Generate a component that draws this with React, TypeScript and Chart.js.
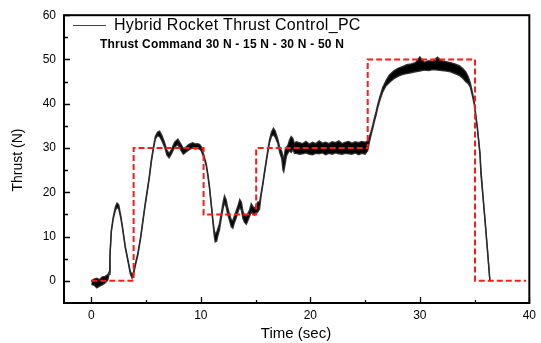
import React, { useEffect, useRef } from "react";
import { Chart, registerables } from "chart.js";

Chart.register(...registerables);

// Measured thrust (noise band: upper / lower envelope), time in seconds
const timeSec = [
  0, 0.25, 0.5, 0.75, 1.0, 1.25, 1.5, 1.62, 1.7, 1.82, 2.0, 2.2, 2.35, 2.5, 2.7, 2.88, 3.1, 3.34, 3.55, 3.72,
  3.85, 4.05, 4.25, 4.5, 4.71, 4.9, 5.1, 5.3, 5.47, 5.65, 5.84, 6.05, 6.23, 6.45, 6.69, 6.9, 7.1, 7.3, 7.6, 7.9,
  8.15, 8.4, 8.6, 8.8, 9.05, 9.27, 9.5, 9.7, 9.9, 10.05, 10.25, 10.49, 10.65, 10.79, 10.95, 11.1, 11.22, 11.31, 11.45, 11.55,
  11.7, 11.9, 12.05, 12.16, 12.3, 12.45, 12.62, 12.78, 12.92, 13.05, 13.2, 13.4, 13.55, 13.7, 13.85, 13.99, 14.15, 14.29, 14.45, 14.6,
  14.75, 14.9, 15.05, 15.2, 15.36, 15.5, 15.66, 15.8, 15.97, 16.12, 16.27, 16.45, 16.63, 16.8, 17.03, 17.2, 17.39, 17.5, 17.57, 17.7,
  17.82, 17.94, 18.1, 18.25, 18.4, 18.55, 18.7, 19.0, 19.3, 19.6, 19.9, 20.2, 20.5, 20.8, 21.1, 21.4, 21.7, 22.0, 22.3, 22.6,
  22.9, 23.2, 23.5, 23.8, 24.1, 24.4, 24.7, 25.0, 25.24, 25.4, 25.55, 25.7, 25.85, 26.0, 26.15, 26.35, 26.6, 26.9, 27.22, 27.6,
  28.0, 28.4, 28.8, 29.2, 29.6, 30.0, 30.4, 30.8, 31.2, 31.6, 32.0, 32.4, 32.8, 33.2, 33.6, 33.9, 34.2, 34.4, 34.6, 34.8,
  34.97, 35.13, 35.27, 35.49, 35.58, 35.75, 35.98, 36.2, 36.4,
];
const thrustHigh = [
  0.0, 0.4, 0.6, 0.3, 0.9, 1.0, 1.4, 2.0, 6.0, 11.4, 14.5, 16.8, 17.6, 17.2, 14.5, 11.6, 7.8, 4.8, 2.2, 1.3,
  2.0, 4.2, 6.3, 10.0, 13.8, 17.2, 20.5, 23.8, 27.2, 30.0, 32.6, 33.6, 33.8, 32.8, 31.2, 29.5, 28.8, 29.6, 31.3, 32.0,
  31.0, 29.9, 30.1, 30.6, 31.0, 31.2, 30.9, 31.0, 30.8, 30.3, 28.6, 26.5, 24.0, 21.3, 17.5, 13.8, 11.5, 10.5, 11.0, 11.8,
  12.9, 15.8, 18.0, 19.2, 18.4, 16.6, 15.0, 13.8, 13.6, 14.6, 15.6, 17.0, 18.4, 17.8, 15.6, 14.8, 14.6, 15.2, 16.0, 17.4,
  16.8, 16.4, 17.0, 17.8, 17.8, 19.8, 22.2, 24.5, 27.3, 29.6, 31.9, 33.6, 34.5, 33.8, 32.0, 30.2, 29.2, 28.0, 27.5, 29.6,
  30.2, 30.6, 31.8, 32.6, 32.2, 31.0, 31.4, 31.2, 31.0, 31.5, 30.9, 31.3, 31.0, 31.6, 31.1, 31.3, 31.0, 31.4, 31.2, 31.6,
  31.0, 31.3, 31.5, 31.1, 31.4, 31.2, 31.5, 31.3, 31.6, 32.6, 33.8, 35.2, 36.8, 38.2, 39.8, 41.6, 43.6, 45.2, 46.5, 47.4,
  48.0, 48.4, 48.8, 49.0, 49.3, 50.6, 49.4, 49.7, 49.6, 50.5, 49.7, 49.5, 49.3, 49.0, 48.6, 48.0, 47.2, 46.2, 44.8, 42.6,
  40.4, 37.2, 34.4, 29.0, 25.2, 19.8, 13.1, 6.4, 0.1,
];
const thrustLow = [
  -0.8, -1.0, -1.6, -1.2, -0.9, -0.5, 0.2, 1.5, 5.5, 11.0, 14.0, 16.0, 16.6, 16.2, 14.0, 11.2, 7.4, 4.4, 1.6, 0.6,
  1.4, 3.8, 5.9, 9.6, 13.4, 16.8, 20.0, 23.3, 26.7, 29.5, 32.0, 32.8, 32.6, 31.6, 30.2, 28.4, 27.8, 28.6, 30.2, 30.8,
  29.6, 28.6, 29.0, 29.4, 29.8, 30.0, 29.8, 29.9, 29.7, 29.3, 28.0, 26.0, 23.5, 20.8, 17.0, 13.2, 10.2, 8.8, 9.0, 10.2,
  11.5, 14.6, 16.6, 17.6, 16.8, 15.0, 13.6, 12.2, 11.9, 13.0, 14.0, 15.6, 16.6, 16.0, 14.0, 13.2, 12.8, 13.6, 14.6, 15.6,
  15.2, 14.8, 15.2, 15.6, 16.2, 19.2, 21.6, 24.0, 26.7, 29.0, 31.2, 32.6, 33.0, 32.4, 31.0, 29.0, 27.6, 25.0, 24.6, 26.4,
  28.2, 28.8, 29.4, 29.0, 29.6, 28.8, 28.8, 28.6, 28.7, 28.9, 28.6, 28.5, 28.8, 28.7, 28.9, 28.5, 28.8, 28.6, 28.9, 28.7,
  28.6, 28.8, 28.7, 28.6, 28.9, 28.5, 28.8, 28.6, 29.4, 31.4, 33.0, 34.4, 36.0, 37.4, 39.0, 40.8, 42.6, 44.0, 44.8, 45.6,
  46.2, 46.6, 46.8, 47.0, 47.2, 47.4, 47.6, 47.5, 47.7, 47.6, 47.5, 47.4, 47.2, 46.8, 46.4, 45.8, 45.0, 44.6, 43.8, 41.8,
  39.8, 36.6, 34.0, 28.6, 24.0, 19.4, 12.7, 6.0, -0.1,
];

// Thrust command (step profile)
const commandTime = [0, 3.86, 3.86, 10.25, 10.25, 15.05, 15.05, 25.24, 25.24, 35.04, 35.04, 39.7];
const commandThrust = [0, 0, 30, 30, 15, 15, 30, 30, 50, 50, 0, 0];

const xTickValues = [0, 10, 20, 30, 40];
const xMinorTickValues = [5, 15, 25, 35];
const yTickValues = [0, 10, 20, 30, 40, 50, 60];
const yMinorTickValues = [5, 15, 25, 35, 45, 55];

const xTitle = "Time (sec)";
const yTitle = "Thrust (N)";
const legendThrust = "Hybrid Rocket Thrust Control_PC";
const legendCommand = "Thrust Command 30 N - 15 N - 30 N - 50 N";

const FONT = '"Liberation Sans", Arial, sans-serif';

const decorPlugin = {
  id: "decor",
  afterDraw(chart: any) {
    const { ctx, chartArea: a, scales } = chart;
    const xs = scales.x;
    const ys = scales.y;
    ctx.save();
    // frame
    ctx.strokeStyle = "#000";
    ctx.lineWidth = 2;
    ctx.strokeRect(a.left, a.top, a.right - a.left, a.bottom - a.top);
    // inward ticks
    ctx.lineWidth = 1.3;
    ctx.beginPath();
    xTickValues.forEach((v) => {
      const px = Math.round(xs.getPixelForValue(v)) + 0.5;
      ctx.moveTo(px, a.bottom);
      ctx.lineTo(px, a.bottom - 6);
    });
    xMinorTickValues.forEach((v) => {
      const px = Math.round(xs.getPixelForValue(v)) + 0.5;
      ctx.moveTo(px, a.bottom);
      ctx.lineTo(px, a.bottom - 3);
    });
    yTickValues.forEach((v) => {
      const py = Math.round(ys.getPixelForValue(v)) + 0.5;
      ctx.moveTo(a.left, py);
      ctx.lineTo(a.left + 6, py);
    });
    yMinorTickValues.forEach((v) => {
      const py = Math.round(ys.getPixelForValue(v)) + 0.5;
      ctx.moveTo(a.left, py);
      ctx.lineTo(a.left + 4, py);
    });
    ctx.stroke();

    // axis titles
    ctx.fillStyle = "#000";
    ctx.textBaseline = "middle";
    ctx.textAlign = "center";
    ctx.font = `15px ${FONT}`;
    ctx.fillText(xTitle, 296, 334);
    ctx.save();
    ctx.translate(18, 160);
    ctx.rotate(-Math.PI / 2);
    ctx.font = `14px ${FONT}`;
    ctx.fillText(yTitle, 0, 0);
    ctx.restore();

    // legend
    ctx.strokeStyle = "#444";
    ctx.lineWidth = 1;
    ctx.beginPath();
    ctx.moveTo(73, 25.5);
    ctx.lineTo(106, 25.5);
    ctx.stroke();
    ctx.textAlign = "left";
    ctx.font = `16px ${FONT}`;
    (ctx as any).letterSpacing = "0.3px";
    ctx.fillText(legendThrust, 114, 26);
    ctx.font = `bold 12px ${FONT}`;
    (ctx as any).letterSpacing = "0.2px";
    ctx.fillText(legendCommand, 100, 45);
    (ctx as any).letterSpacing = "0px";
    ctx.restore();
  },
};

export default function App() {
  const ref = useRef<HTMLCanvasElement | null>(null);

  useEffect(() => {
    if (!ref.current) return;
    const hi = timeSec.map((t, i) => ({ x: t, y: thrustHigh[i] }));
    const lo = timeSec.map((t, i) => ({ x: t, y: thrustLow[i] }));
    const cmd = commandTime.map((t, i) => ({ x: t, y: commandThrust[i] }));

    const chart = new Chart(ref.current, {
      type: "line",
      data: {
        datasets: [
          {
            label: legendThrust,
            data: hi,
            borderColor: "rgba(40,40,40,0.9)",
            borderWidth: 1.4,
            backgroundColor: "#000",
            fill: "+1",
            pointRadius: 0,
            tension: 0,
            order: 2,
          },
          {
            label: "low",
            data: lo,
            borderColor: "rgba(40,40,40,0.9)",
            borderWidth: 1.4,
            fill: false,
            pointRadius: 0,
            tension: 0,
            order: 1,
          },
          {
            label: legendCommand,
            data: cmd,
            borderColor: "#ff1a1a",
            borderWidth: 2,
            borderDash: [6, 3],
            fill: false,
            pointRadius: 0,
            tension: 0,
            order: 0,
          },
        ],
      },
      options: {
        animation: false,
        responsive: false,
        devicePixelRatio: 1,
        layout: { padding: { top: 13, right: 11, left: 0, bottom: 0 } },
        plugins: { legend: { display: false }, tooltip: { enabled: false } },
        scales: {
          x: {
            type: "linear",
            min: -2.5,
            max: 40,
            grid: { display: false, drawTicks: false },
            border: { display: false },
            ticks: { color: "#000", font: { size: 12, family: FONT }, padding: 5, maxRotation: 0 },
            afterBuildTicks: (s: any) => {
              s.ticks = xTickValues.map((v) => ({ value: v }));
            },
            afterFit: (s: any) => {
              s.height = 40;
            },
          },
          y: {
            type: "linear",
            min: -5,
            max: 60,
            grid: { display: false, drawTicks: false },
            border: { display: false },
            ticks: { color: "#000", font: { size: 12, family: FONT }, padding: 8 },
            afterBuildTicks: (s: any) => {
              s.ticks = yTickValues.map((v) => ({ value: v }));
            },
            afterFit: (s: any) => {
              s.width = 64;
            },
          },
        },
      },
      plugins: [decorPlugin],
    });
    return () => chart.destroy();
  }, []);

  return (
    <div style={{ position: "absolute", left: 0, top: 0, width: 541, height: 343, background: "#fff" }}>
      <canvas ref={ref} width={541} height={343} style={{ display: "block" }} />
    </div>
  );
}
